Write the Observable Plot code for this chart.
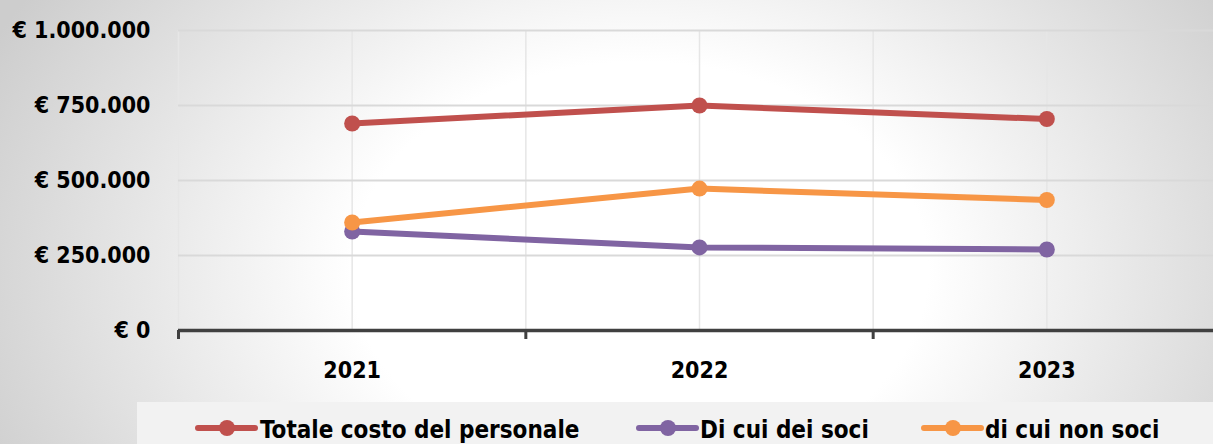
<!DOCTYPE html>
<html>
<head>
<meta charset="utf-8">
<script src="https://cdn.jsdelivr.net/npm/d3@7"></script>
<script src="https://cdn.jsdelivr.net/npm/@observablehq/plot@0.6"></script>
<style>
  html, body { margin: 0; padding: 0; overflow: hidden; }
  #wrap {
    position: relative; width: 1213px; height: 444px; overflow: hidden;
    background: radial-gradient(ellipse 720px 520px at 640px 270px, #ffffff 40%, #cdcdcd 100%);
    font-family: "DejaVu Sans Condensed", "DejaVu Sans", sans-serif;
    font-stretch: condensed;
  }
  #chart { position: absolute; left: 0; top: 0; width: 1230px; }
  #chart svg { max-width: none !important; }
  #chart svg text { font-family: "DejaVu Sans Condensed", "DejaVu Sans", sans-serif; font-stretch: condensed; font-weight: bold; fill: #000; }
  #legend {
    position: absolute; left: 137px; top: 402px; width: 1076px; height: 42px;
    background: #f2f2f2;
  }
  #legend text { font-family: "DejaVu Sans Condensed", "DejaVu Sans", sans-serif; font-stretch: condensed; font-weight: bold; font-size: 24px; fill: #000; }
</style>
</head>
<body>
<div id="wrap">
  <div id="chart"></div>
  <div id="legend"></div>
</div>
<script>
// ---- data ----
const years = [2021, 2022, 2023];
const seriesNames = ["Totale costo del personale", "Di cui dei soci", "di cui non soci"];
const seriesColors = ["#C0504D", "#8064A2", "#F79646"];
const totale = [690000, 750000, 705000];
const soci = [330000, 277000, 270000];
const nonSoci = [360000, 473000, 435000];
const yTicks = [0, 250000, 500000, 750000, 1000000];

// ---- build table ----
const seriesValues = [totale, soci, nonSoci];
const data = [];
seriesNames.forEach((name, s) => {
  years.forEach((yr, i) => data.push({ series: name, year: yr, value: seriesValues[s][i] }));
});

const locale = d3.formatLocale({ decimal: ",", thousands: ".", grouping: [3], currency: ["€ ", ""] });
const fmt = locale.format("$,.0f");

const bandEdges = d3.range(years[0] - 0.5, years[years.length - 1] + 0.51, 1);
const halfGrid = d3.range(years[0] - 0.5, years[years.length - 1] + 0.51, 0.5);

const chart = Plot.plot({
  width: 1225,
  height: 400,
  marginLeft: 178,
  marginRight: 5,
  marginTop: 30,
  marginBottom: 70,
  style: { background: "transparent", overflow: "visible", maxWidth: "none" },
  x: { domain: [years[0] - 0.5, years[years.length - 1] + 0.5], label: null },
  y: { domain: [0, 1000000], label: null },
  color: { domain: seriesNames, range: seriesColors },
  marks: [
    Plot.gridX({ ticks: halfGrid, stroke: "#e6e6e6", strokeOpacity: 1, strokeWidth: 1.5 }),
    Plot.gridY({ ticks: yTicks.slice(1), stroke: "#d9d9d9", strokeOpacity: 1, strokeWidth: 1.8 }),
    Plot.axisY({ ticks: yTicks, tickSize: 0, tickPadding: 28, tickFormat: fmt, fontSize: 23, fontWeight: "bold", label: null }),
    Plot.axisX({ ticks: years, tickSize: 0, tickPadding: 31, tickFormat: d => String(d), fontSize: 23, fontWeight: "bold", label: null }),
    Plot.axisX({ ticks: bandEdges, tickSize: 9, tickFormat: () => "", stroke: "#404040", strokeWidth: 3, label: null }),
    Plot.ruleY([0], { stroke: "#404040", strokeWidth: 3.5 }),
    Plot.line(data, { x: "year", y: "value", z: "series", stroke: "series", strokeWidth: 6, strokeLinejoin: "round" }),
    Plot.dot(data, { x: "year", y: "value", fill: "series", r: 8 })
  ]
});
document.getElementById("chart").appendChild(chart);

// ---- legend ----
const legendItems = [
  { sx: 61, tx: 123 },
  { sx: 502, tx: 563 },
  { sx: 787, tx: 848 }
];
const ns = "http://www.w3.org/2000/svg";
const lsvg = document.createElementNS(ns, "svg");
lsvg.setAttribute("width", 1076);
lsvg.setAttribute("height", 42);
seriesNames.forEach((name, i) => {
  const it = legendItems[i];
  const line = document.createElementNS(ns, "line");
  line.setAttribute("x1", it.sx); line.setAttribute("x2", it.sx + 57);
  line.setAttribute("y1", 26); line.setAttribute("y2", 26);
  line.setAttribute("stroke", seriesColors[i]); line.setAttribute("stroke-width", 6);
  line.setAttribute("stroke-linecap", "round");
  lsvg.appendChild(line);
  const c = document.createElementNS(ns, "circle");
  c.setAttribute("cx", it.sx + 29); c.setAttribute("cy", 26); c.setAttribute("r", 8);
  c.setAttribute("fill", seriesColors[i]);
  lsvg.appendChild(c);
  const t = document.createElementNS(ns, "text");
  t.setAttribute("x", it.tx); t.setAttribute("y", 36);
  t.textContent = name;
  lsvg.appendChild(t);
});
document.getElementById("legend").appendChild(lsvg);
</script>
</body>
</html>
